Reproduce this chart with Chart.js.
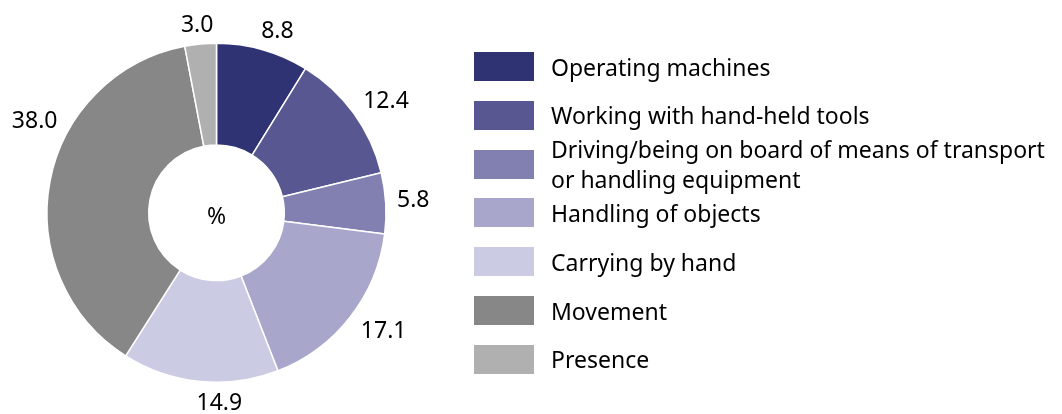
<!DOCTYPE html>
<html>
<head>
<meta charset="utf-8">
<script src="https://cdn.jsdelivr.net/npm/chart.js@4.4.1/dist/chart.umd.min.js"></script>
<style>
  html, body { margin: 0; padding: 0; background: #fff; }
  #wrap { position: relative; width: 1062px; height: 414px; overflow: hidden; }
  #c { position: absolute; left: 0; top: 0; }
  #legend { position: absolute; left: 474px; top: 52px; font-family: "Noto Sans", sans-serif; font-size: 23px; color: #000; }
  .item { position: absolute; left: 0; height: 29px; width: 600px; }
  .box { position: absolute; left: 0; top: 0; width: 60px; height: 29px; }
  .txt { position: absolute; left: 77px; top: 50%; transform: translateY(-50%); line-height: 30px; white-space: nowrap; }
</style>
</head>
<body>
<div id="wrap">
  <canvas id="c" width="1062" height="414"></canvas>
  <div id="legend"></div>
</div>
<script>
const categories = [
  "Operating machines",
  "Working with hand-held tools",
  "Driving/being on board of means of transport\nor handling equipment",
  "Handling of objects",
  "Carrying by hand",
  "Movement",
  "Presence"
];
const values = [8.8, 12.4, 5.8, 17.1, 14.9, 38.0, 3.0];
const valueLabels = ["8.8", "12.4", "5.8", "17.1", "14.9", "38.0", "3.0"];
const colors = ["#2f3373", "#585791", "#8180b0", "#a8a7cb", "#cbcbe4", "#878787", "#b0b0b0"];
const centerText = "%";

const FONT = '"Noto Sans", sans-serif';

// label placement along each slice (0.5 = middle of slice) – styling option
const labelStyle = { frac: [0.58, 0.55, 0.46, 0.45, 0.38, 0.62, 0.46], gap: 11, boxH: 16, size: 23 };

const outsideLabels = {
  id: 'outsideLabels',
  afterDatasetsDraw(chart) {
    const ctx = chart.ctx;
    const meta = chart.getDatasetMeta(0);
    ctx.save();
    ctx.font = labelStyle.size + 'px ' + FONT;
    ctx.fillStyle = '#000';
    ctx.textAlign = 'center';
    ctx.textBaseline = 'alphabetic';
    meta.data.forEach((arc, i) => {
      const p = arc.getProps(['x', 'y', 'startAngle', 'endAngle', 'outerRadius'], true);
      const f = labelStyle.frac[i];
      const a = p.startAngle + f * (p.endAngle - p.startAngle);
      const txt = valueLabels[i];
      const m = ctx.measureText(txt);
      const w = m.width;
      const h = labelStyle.boxH;
      const c = Math.cos(a), s = Math.sin(a);
      const pad = Math.abs(c) * w / 2 + Math.abs(s) * h / 2 + labelStyle.gap;
      const R = p.outerRadius + pad;
      const cx = p.x + R * c, cy = p.y + R * s;
      const asc = m.actualBoundingBoxAscent || 16;
      ctx.fillText(txt, cx, cy + asc / 2);
    });
    // center text
    const a0 = meta.data[0].getProps(['x', 'y'], true);
    const m2 = ctx.measureText(centerText);
    const asc2 = m2.actualBoundingBoxAscent || 16;
    ctx.fillText(centerText, a0.x, a0.y + 3 + asc2 / 2);
    ctx.restore();
  }
};

const chart = new Chart(document.getElementById('c'), {
  type: 'doughnut',
  data: {
    labels: categories,
    datasets: [{
      data: values,
      backgroundColor: colors,
      borderColor: '#ffffff',
      borderWidth: 1.5,
      hoverOffset: 0
    }]
  },
  options: {
    responsive: false,
    animation: false,
    events: [],
    radius: 169.5,
    cutout: '40%',
    layout: { padding: { left: 0, right: 629, top: 11.6, bottom: 0 } },
    plugins: { legend: { display: false }, tooltip: { enabled: false } }
  },
  plugins: [outsideLabels]
});

// HTML legend built from chart data
const legend = document.getElementById('legend');
const step = 48.8;
chart.data.labels.forEach((lab, i) => {
  const item = document.createElement('div');
  item.className = 'item';
  item.style.top = (i * step) + 'px';
  const box = document.createElement('div');
  box.className = 'box';
  box.style.background = chart.data.datasets[0].backgroundColor[i];
  const t = document.createElement('div');
  t.className = 'txt';
  lab.split('\n').forEach((line, k) => {
    if (k) t.appendChild(document.createElement('br'));
    t.appendChild(document.createTextNode(line));
  });
  item.appendChild(box);
  item.appendChild(t);
  legend.appendChild(item);
});
</script>
</body>
</html>
